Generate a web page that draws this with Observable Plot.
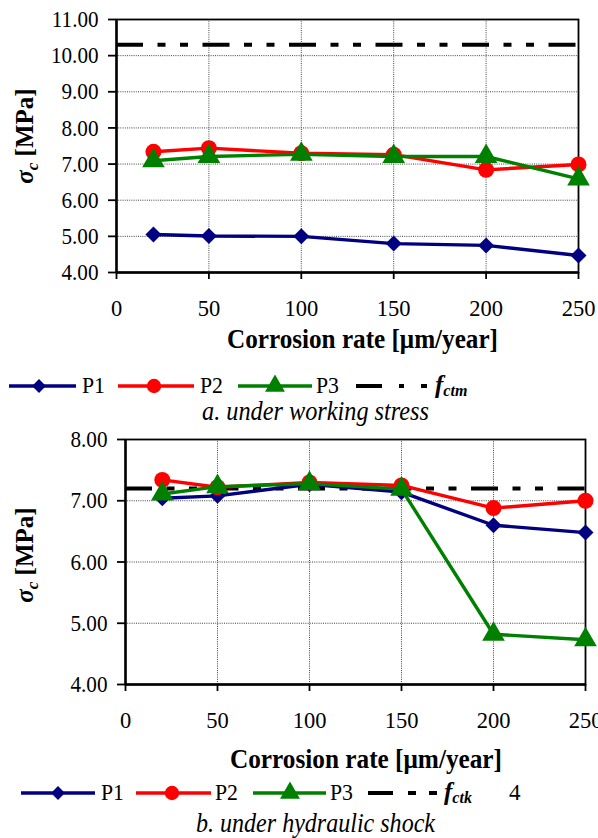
<!DOCTYPE html>
<html><head><meta charset="utf-8">
<script src="https://cdn.jsdelivr.net/npm/d3@7"></script>
<script src="https://cdn.jsdelivr.net/npm/@observablehq/plot@0.6"></script>
<style>
body{margin:0;background:#fff;overflow:hidden}
#page{position:relative;width:598px;height:838px;background:#fff;overflow:hidden}
#page svg{position:absolute;left:0}
#page svg text{font-family:"Liberation Serif","Times New Roman",Tinos,"DejaVu Serif",serif !important}
</style></head><body><div id="page"></div>
<script>
// ---- data ----
const rates = [20, 50, 100, 150, 200, 250];
const xTicks = [0, 50, 100, 150, 200, 250];
const seriesNames = ["P1", "P2", "P3"];
const seriesColors = ["#000080", "#ff0000", "#008000"];
const seriesSymbols = ["diamond2", "circle", "triangle"];

const workP1 = [5.05, 5.01, 5.00, 4.80, 4.75, 4.47];
const workP2 = [7.34, 7.44, 7.30, 7.26, 6.84, 6.99];
const workP3 = [7.09, 7.21, 7.27, 7.21, 7.21, 6.59];
const fctm = 10.30;
const workYTicks = [4, 5, 6, 7, 8, 9, 10, 11];

const shockP1 = [7.04, 7.08, 7.27, 7.14, 6.60, 6.48];
const shockP2 = [7.34, 7.22, 7.30, 7.25, 6.88, 7.00];
const shockP3 = [7.11, 7.23, 7.28, 7.19, 4.82, 4.73];
const fctk = 7.20;
const shockYTicks = [4, 5, 6, 7, 8];

const xTitle = "Corrosion rate [μm/year]";
const captionA = "a. under working stress";
const captionB = "b. under hydraulic shock";

const page = document.getElementById("page");
const FONT = '"Liberation Serif", "Times New Roman", Tinos, "DejaVu Serif", serif';
const DASH = "27,14.5,8,14.5,8,14.5";
const radii = [7.2, 8, 8.4];
const legendRadii = [6.2, 7.2, 7.4];

function tidy(arrs) {
  const out = [];
  arrs.forEach((vals, i) => vals.forEach((v, j) => out.push({series: seriesNames[i], rate: rates[j], value: v})));
  return out;
}

function panel({data, yTicks, ref, top, mLeft, mRight, mBottom}) {
  const ymin = yTicks[0], ymax = yTicks[yTicks.length - 1];
  const marks = [
    Plot.ruleX(xTicks.slice(1, -1), {stroke: "#444", strokeWidth: 1, strokeDasharray: "1,1.2"}),
    Plot.ruleY(yTicks.slice(1, -1), {stroke: "#444", strokeWidth: 1, strokeDasharray: "1,1.2"}),
    Plot.frame({stroke: "black", strokeWidth: 1.8}),
    Plot.ruleX([0], {stroke: "black", strokeWidth: 2.4}),
    Plot.ruleY([ymin], {stroke: "black", strokeWidth: 2.4}),
    Plot.ruleY([ref], {stroke: "black", strokeWidth: 4, strokeDasharray: DASH}),
    Plot.axisX({ticks: xTicks, tickSize: 7, tickPadding: 21, strokeWidth: 1.8, fontSize: 22.5, label: null}),
    Plot.axisY({ticks: yTicks, tickSize: 8, tickPadding: 10, strokeWidth: 1.8, fontSize: 24, tickFormat: d3.format(".2f"), label: null})
  ];
  seriesNames.forEach((s, i) => {
    const d = data.filter(r => r.series === s);
    marks.push(Plot.line(d, {x: "rate", y: "value", stroke: seriesColors[i], strokeWidth: 3.4}));
    marks.push(Plot.dot(d, {x: "rate", y: "value", fill: seriesColors[i], stroke: "none",
      symbol: seriesSymbols[i], r: radii[i]}));
  });
  const svg = Plot.plot({
    width: 598, height: 350,
    marginTop: 19, marginBottom: mBottom, marginLeft: mLeft, marginRight: mRight,
    x: {domain: [0, 250]},
    y: {domain: [ymin, ymax]},
    style: {fontFamily: FONT, color: "black", background: "transparent", overflow: "visible"},
    marks
  });
  svg.style.top = top + "px";
  page.appendChild(svg);
  svg.querySelectorAll("text").forEach(t => t.setAttribute("font-family", FONT));
  // the reference's y tick labels are horizontally condensed
  svg.querySelectorAll('g[aria-label="y-axis tick label"] text').forEach(t => {
    const L = t.getComputedTextLength();
    t.setAttribute("textLength", (L * 0.88).toFixed(1));
    t.setAttribute("lengthAdjust", "spacingAndGlyphs");
  });
}

panel({data: tidy([workP1, workP2, workP3]), yTicks: workYTicks, ref: fctm, top: 0, mLeft: 116, mRight: 20, mBottom: 78});
panel({data: tidy([shockP1, shockP2, shockP3]), yTicks: shockYTicks, ref: fctk, top: 420, mLeft: 125, mRight: 13, mBottom: 86});

// ---- overlay: titles, legends, captions ----
const NS = "http://www.w3.org/2000/svg";
const ov = document.createElementNS(NS, "svg");
ov.setAttribute("width", 598); ov.setAttribute("height", 838);
ov.style.top = "0px";
page.appendChild(ov);

function el(parent, tag, attrs, text) {
  const e = document.createElementNS(NS, tag);
  for (const k in attrs) e.setAttribute(k, attrs[k]);
  if (tag === "text") e.setAttribute("font-family", FONT);
  if (text != null) e.textContent = text;
  parent.appendChild(e);
  return e;
}

function yTitle(cx, cy) {
  const t = el(ov, "text", {transform: `translate(${cx},${cy}) rotate(-90)`, "text-anchor": "middle", dy: "0.35em",
    "font-size": 25, "font-weight": "bold"});
  el(t, "tspan", {"font-style": "italic"}, "σ");
  el(t, "tspan", {"font-style": "italic", "font-size": 17, dy: 5}, "c");
  el(t, "tspan", {dy: -5}, " [MPa]");
}
yTitle(24, 136);
yTitle(24, 555);

function fitText(x0, x1, baseline, str, attrs) {
  return el(ov, "text", Object.assign({x: x0, y: baseline, textLength: x1 - x0, lengthAdjust: "spacingAndGlyphs"}, attrs), str);
}
fitText(227, 498, 348, xTitle, {"font-size": 27, "font-weight": "bold"});
fitText(230, 502, 768, xTitle, {"font-size": 27, "font-weight": "bold"});
fitText(202, 429, 420, captionA, {"font-size": 27, "font-style": "italic"});
fitText(196, 435, 832, captionB, {"font-size": 27, "font-style": "italic"});

function legend(cy, base, items, dash, sub, extra) {
  items.forEach((it, i) => {
    el(ov, "line", {x1: it.x0, x2: it.x1, y1: cy, y2: cy, stroke: seriesColors[i], "stroke-width": 3.4});
    const r = legendRadii[i];
    const type = [d3.symbolDiamond2, d3.symbolCircle, d3.symbolTriangle][i];
    el(ov, "path", {d: d3.symbol(type, Math.PI * r * r)(), transform: `translate(${it.m},${cy})`, fill: seriesColors[i]});
    fitText(it.t, it.t + 23, base, seriesNames[i], {"font-size": 23});
  });
  dash.segs.forEach(([a, b]) => el(ov, "line", {x1: a, x2: b, y1: cy, y2: cy, stroke: "black", "stroke-width": 4}));
  const t = el(ov, "text", {x: dash.t, y: base, "font-size": 25, "font-weight": "bold", "font-style": "italic"});
  el(t, "tspan", {}, "f");
  el(t, "tspan", {"font-size": 16, dy: 3}, sub);
  if (extra) el(ov, "text", {x: extra.x, y: base, "font-size": 23}, extra.text);
}

legend(386, 393, [{x0: 9, x1: 76, m: 39, t: 82}, {x0: 118, x1: 194, m: 154, t: 200}, {x0: 238, x1: 312, m: 275, t: 316}],
  {segs: [[356, 382], [399, 404], [421, 427]], t: 435}, "ctm");
legend(793, 800, [{x0: 21, x1: 95, m: 58, t: 101}, {x0: 136, x1: 211, m: 172, t: 215}, {x0: 253, x1: 326, m: 290, t: 330}],
  {segs: [[368, 393], [408, 416], [429, 437]], t: 444}, "ctk", {x: 509, text: "4"});
</script>
</body></html>
